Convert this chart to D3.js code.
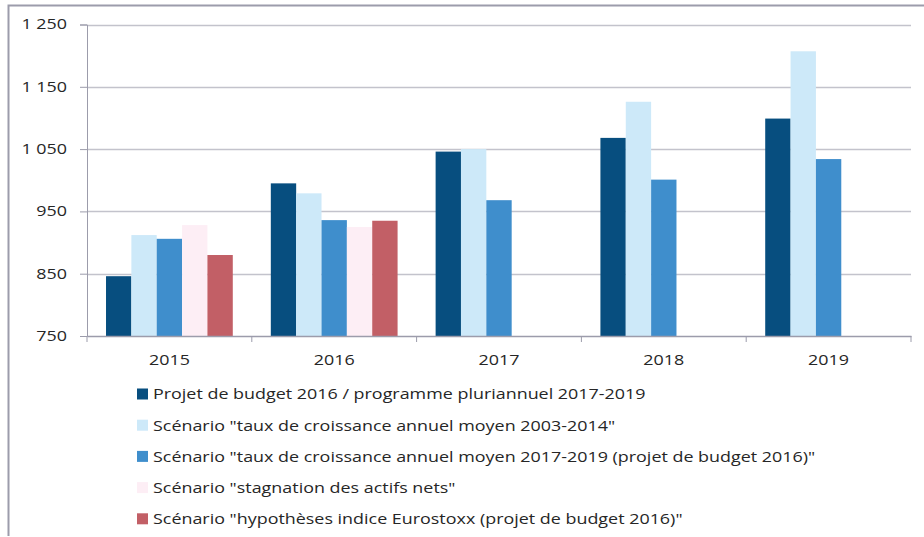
<!DOCTYPE html>
<html>
<head>
<meta charset="utf-8">
<script src="https://cdn.jsdelivr.net/npm/d3@7"></script>
<style>
  body { margin: 0; background: #fff; }
  svg text { font-family: "Open Sans", sans-serif; fill: #262626; }
</style>
</head>
<body>
<div id="chart"></div>
<script>
const years = ['2015', '2016', '2017', '2018', '2019'];

const seriesNames = [
  'Projet de budget 2016 / programme pluriannuel 2017-2019',
  'Scénario "taux de croissance annuel moyen 2003-2014"',
  'Scénario "taux de croissance annuel moyen 2017-2019 (projet de budget 2016)"',
  'Scénario "stagnation des actifs nets"',
  'Scénario "hypothèses indice Eurostoxx (projet de budget 2016)"'
];

// null = no bar for that year
const budget     = [846, 995, 1046, 1068, 1099];
const growth0314 = [912, 979, 1050, 1126, 1207];
const growth1719 = [906, 936, 968, 1001, 1034];
const stagnation = [928, 925, null, null, null];
const eurostoxx  = [880, 935, null, null, null];

const yTicks = [750, 850, 950, 1050, 1150, 1250];

const seriesValues = [budget, growth0314, growth1719, stagnation, eurostoxx];
const colors = ['#074e7f', '#cde9f9', '#3f8ecc', '#fdeef5', '#c25f66'];

const W = 924, H = 537;
const margin = { left: 87, right: 13, top: 24.5, bottom: 201 };
const FONT = 14, STRETCH = 1.28;   // reference text is wide, stretch horizontally

const svg = d3.select('#chart').append('svg')
  .attr('width', W)
  .attr('height', H);

// outer frame (top and left edges)
svg.append('path')
  .attr('d', `M8.5,536 V5.5 H${W}`)
  .attr('fill', 'none')
  .attr('stroke', '#9c9cab')
  .attr('stroke-width', 2);

const x = d3.scaleBand()
  .domain(years)
  .range([margin.left, W - margin.right]);

// bars fill 5 of 6.5 slots, gap split on both sides
const inner = d3.scaleBand()
  .domain(d3.range(seriesNames.length))
  .range([0, x.bandwidth()])
  .paddingInner(0)
  .paddingOuter(0.75);

const y = d3.scaleLinear()
  .domain([750, 1250])
  .range([H - margin.bottom, margin.top]);

// gridlines
svg.append('g')
  .selectAll('line')
  .data(yTicks.slice(1))
  .join('line')
  .attr('x1', margin.left)
  .attr('x2', W - margin.right)
  .attr('y1', d => Math.round(y(d)) + 0.5)
  .attr('y2', d => Math.round(y(d)) + 0.5)
  .attr('stroke', '#c3c3cc')
  .attr('stroke-width', 1.5);

// bars
const rows = [];
seriesValues.forEach((vals, s) => {
  vals.forEach((v, i) => {
    if (v != null) rows.push({ s, year: years[i], v });
  });
});

svg.append('g')
  .selectAll('rect')
  .data(rows)
  .join('rect')
  .attr('x', d => x(d.year) + inner(d.s))
  .attr('width', inner.bandwidth())
  .attr('y', d => y(d.v))
  .attr('height', d => y(750) - y(d.v))
  .attr('fill', d => colors[d.s]);

const fmt = d => d3.format(',')(d).replace(',', ' ');

// move the text x into a transform so the stretch keeps its anchor
function stretch(sel) {
  sel.each(function() {
    const t = d3.select(this);
    const x0 = +t.attr('x') || 0;
    t.attr('x', 0).attr('transform', `translate(${x0},0) scale(${STRETCH},1)`);
  });
}

// y axis
const yAxis = svg.append('g')
  .attr('transform', `translate(${margin.left},0)`)
  .call(d3.axisLeft(y).tickValues(yTicks).tickSize(7).tickPadding(13).tickFormat(fmt));
yAxis.select('.domain').attr('stroke', '#9c9cab');
yAxis.selectAll('.tick line').attr('stroke', '#9c9cab');
yAxis.selectAll('.tick text')
  .style('font-size', FONT + 'px')
  .attr('fill', '#262626')
  .call(stretch);

// x axis
const xAxis = svg.append('g')
  .attr('transform', `translate(0,${y(750)})`)
  .call(d3.axisBottom(x).tickSize(0).tickPadding(19));
xAxis.select('.domain').attr('stroke', '#9c9cab').attr('stroke-width', 1.5);
xAxis.selectAll('.tick text')
  .style('font-size', FONT + 'px')
  .attr('fill', '#262626')
  .call(stretch);

// category boundary ticks
xAxis.append('g')
  .selectAll('line')
  .data(years.concat(['end']))
  .join('line')
  .attr('x1', d => d === 'end' ? x.range()[1] : x(d))
  .attr('x2', d => d === 'end' ? x.range()[1] : x(d))
  .attr('y1', 0)
  .attr('y2', 6)
  .attr('stroke', '#9c9cab');

// legend
const legend = svg.append('g')
  .attr('transform', 'translate(137,394.5)');

const item = legend.selectAll('g')
  .data(seriesNames)
  .join('g')
  .attr('transform', (d, i) => `translate(0,${i * 31.2})`);

item.append('rect')
  .attr('x', 0)
  .attr('y', -6)
  .attr('width', 11)
  .attr('height', 11)
  .attr('fill', (d, i) => colors[i]);

item.append('text')
  .attr('x', 16)
  .attr('dy', '0.35em')
  .style('font-size', FONT + 'px')
  .text(d => d)
  .call(stretch);
</script>
</body>
</html>
